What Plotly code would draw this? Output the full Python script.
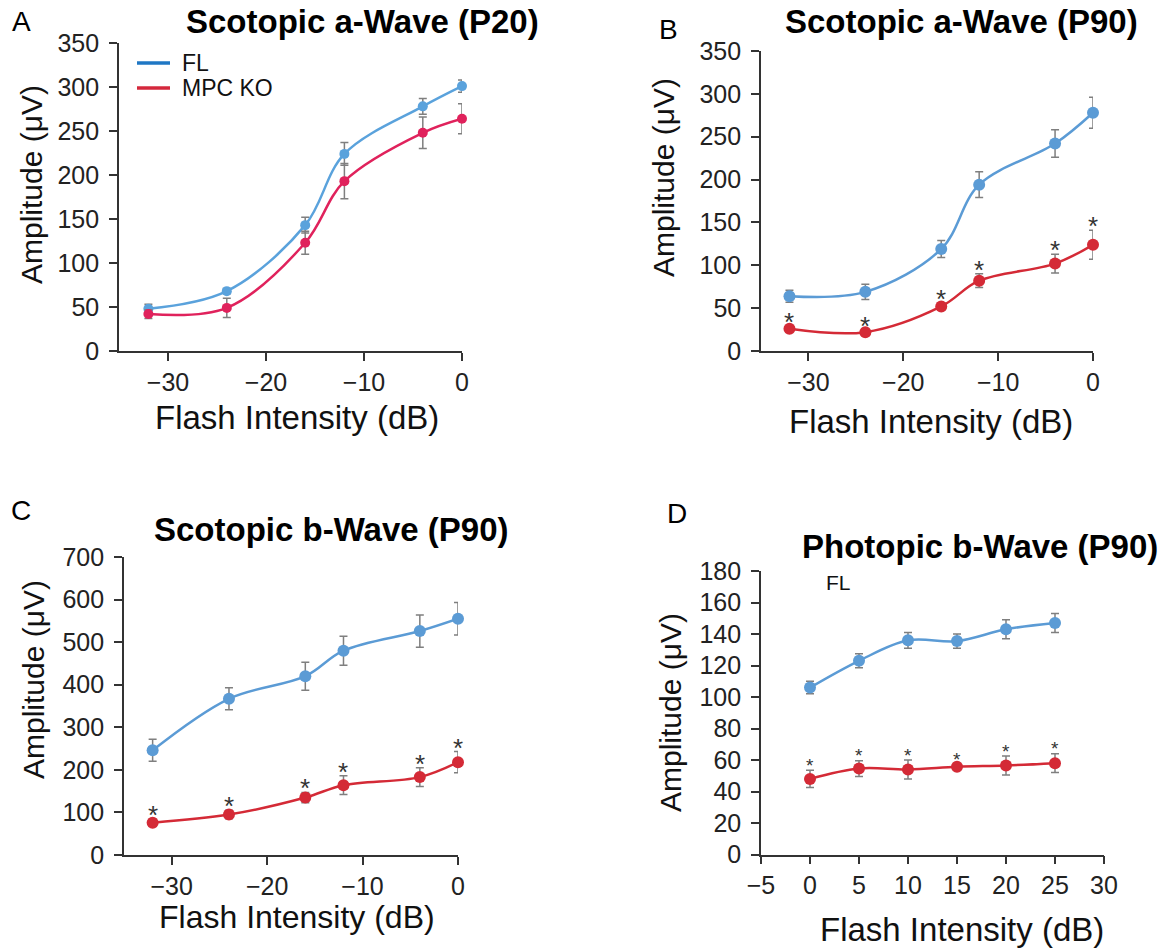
import plotly.graph_objects as go

# ---------------- data ----------------
x_scot = [-32, -24, -16, -12, -4, 0]
x_phot = [0, 5, 10, 15, 20, 25]

a20_fl = [48, 68, 143, 224, 278, 301]
a20_fl_err = [5, 3, 9, 13, 9, 7]
a20_ko = [42, 49, 123, 193, 248, 264]
a20_ko_err = [5, 11, 13, 20, 18, 17]

a90_fl = [64, 69, 119, 194, 242, 278]
a90_fl_err = [7, 9, 10, 15, 16, 18]
a90_ko = [26, 22, 52, 82, 102, 124]
a90_ko_err = [3, 2, 4, 8, 11, 17]

b90_fl = [246, 367, 420, 480, 526, 555]
b90_fl_err = [26, 26, 33, 34, 38, 38]
b90_ko = [76, 95, 135, 164, 183, 218]
b90_ko_err = [8, 10, 12, 22, 22, 25]

ph_fl = [106, 123, 136, 135.5, 143, 147]
ph_fl_err = [4, 4.5, 5, 4.5, 6, 6]
ph_ko = [48, 54.6, 54, 55.7, 56.5, 58]
ph_ko_err = [5.5, 5, 6, 1.5, 6, 6]

titles = ["Scotopic a-Wave (P20)", "Scotopic a-Wave (P90)",
          "Scotopic b-Wave (P90)", "Photopic b-Wave (P90)"]
letters = ["A", "B", "C", "D"]
series_names = ["FL", "MPC KO"]
x_title = "Flash Intensity (dB)"
y_title = "Amplitude (\u03bcV)"

# ---------------- style / geometry ----------------
FONT = "Liberation Sans, Arial, Helvetica, sans-serif"
FW, FH = 1171, 951


def PX(px):
    return px / FW


def PY(py):
    return 1 - py / FH


BLUE_A, RED_A = "#5aa2dc", "#e0225c"
BLUE, RED = "#5b9bd5", "#d42a36"
LEG_BLUE, LEG_RED = "#1f77c4", "#d4283c"
ERR = "#7f7f7f"
AX = "#333333"

fig = go.Figure()


def add_series(x, y, err, color, ax, name, msize=12):
    fig.add_trace(go.Scatter(
        x=x, y=y, mode="lines+markers", name=name,
        line=dict(color=color, width=2.5, shape="spline", smoothing=1.0),
        marker=dict(color=color, size=msize),
        error_y=dict(type="data", array=err, visible=True, color=ERR,
                     thickness=1.5, width=4),
        xaxis="x" + ax, yaxis="y" + ax, showlegend=False, cliponaxis=False))


def add_stars(x, y, err, ax, size=26, shift=4):
    for xi, yi, ei in zip(x, y, err):
        fig.add_annotation(text="*", x=xi, y=yi + ei, xref="x" + ax, yref="y" + ax,
                           showarrow=False, xanchor="center", yanchor="middle",
                           yshift=shift,
                           font=dict(family=FONT, size=size, color="#333333"))


# panel A
add_series(x_scot, a20_fl, a20_fl_err, BLUE_A, "", series_names[0], 10)
add_series(x_scot, a20_ko, a20_ko_err, RED_A, "", series_names[1], 10)
# panel B
add_series(x_scot, a90_fl, a90_fl_err, BLUE, "2", series_names[0])
add_series(x_scot, a90_ko, a90_ko_err, RED, "2", series_names[1])
add_stars(x_scot, a90_ko, a90_ko_err, "2")
# panel C
add_series(x_scot, b90_fl, b90_fl_err, BLUE, "3", series_names[0])
add_series(x_scot, b90_ko, b90_ko_err, RED, "3", series_names[1])
add_stars(x_scot, b90_ko, b90_ko_err, "3")
# panel D
add_series(x_phot, ph_fl, ph_fl_err, BLUE, "4", series_names[0])
add_series(x_phot, ph_ko, ph_ko_err, RED, "4", series_names[1])
add_stars(x_phot, ph_ko, ph_ko_err, "4", 19, 5)

common_axis = dict(showline=True, linecolor=AX, linewidth=1.6, ticks="outside",
                   ticklen=8, tickwidth=1.5, tickcolor=AX, showgrid=False,
                   zeroline=False, tickfont=dict(family=FONT, size=25, color="#222"))

# plot areas in page pixels: (left, right, top, bottom)
boxes = {
    "": (119, 462, 43, 351),
    "2": (761, 1093, 51, 351),
    "3": (124, 458, 557, 855),
    "4": (761, 1104, 571, 854.5),
}
xranges = {"": [-35, 0], "2": [-35, 0], "3": [-35, 0], "4": [-5, 30]}
xdt = {"": 10, "2": 10, "3": 10, "4": 5}
yranges = {"": [0, 350], "2": [0, 350], "3": [0, 700], "4": [0, 180]}
ydt = {"": 50, "2": 50, "3": 100, "4": 20}

layout = dict(
    width=FW, height=FH, margin=dict(l=0, r=0, t=0, b=0, autoexpand=False),
    paper_bgcolor="white", plot_bgcolor="white",
    font=dict(family=FONT),
    showlegend=False,
)
for k, (l, r, t, b) in boxes.items():
    layout["xaxis" + k] = dict(domain=[PX(l), PX(r)], range=xranges[k], tick0=0,
                               dtick=xdt[k], anchor="y" + k, **common_axis)
    layout["yaxis" + k] = dict(domain=[PY(b), PY(t)], range=yranges[k], tick0=0,
                               dtick=ydt[k], anchor="x" + k, ticklabelstandoff=5,
                               **common_axis)
fig.update_layout(**layout)

# legend of panel A (line swatches + labels)
for name, col, ly in zip(series_names, [LEG_BLUE, LEG_RED], [63, 88]):
    fig.add_shape(type="line", xref="paper", yref="paper",
                  x0=PX(137), x1=PX(170), y0=PY(ly), y1=PY(ly),
                  line=dict(color=col, width=3.5))
    fig.add_annotation(text=name, x=PX(180), y=PY(ly), xref="paper", yref="paper",
                       showarrow=False, xanchor="left", yanchor="middle",
                       font=dict(family=FONT, size=23, color="#111"))

# panel titles and letters
title_pos = [(362, 22), (961, 22), (331, 529), (980, 546)]
letter_pos = [(21, 22), (668, 29), (21, 510), (677, 513)]
for t, (tx, ty) in zip(titles, title_pos):
    fig.add_annotation(text="<b>" + t + "</b>", x=PX(tx), y=PY(ty),
                       xref="paper", yref="paper", showarrow=False,
                       xanchor="center", yanchor="middle",
                       font=dict(family=FONT, size=33, color="black"))
for l, (lx, ly) in zip(letters, letter_pos):
    fig.add_annotation(text=l, x=PX(lx), y=PY(ly), xref="paper", yref="paper",
                       showarrow=False, xanchor="center", yanchor="middle",
                       font=dict(family=FONT, size=28, color="black"))

# axis titles
xt_pos = [(297, 418), (931, 421), (297, 917), (962, 929)]
xt_size = [33, 33, 32, 33]
yt_pos = [(31, 185), (664, 178), (33, 680), (670, 713)]
for (x0, y0), fs in zip(xt_pos, xt_size):
    fig.add_annotation(text=x_title, x=PX(x0), y=PY(y0), xref="paper", yref="paper",
                       showarrow=False, xanchor="center", yanchor="middle",
                       font=dict(family=FONT, size=fs, color="#111"))
for (x0, y0) in yt_pos:
    fig.add_annotation(text=y_title, x=PX(x0), y=PY(y0), xref="paper", yref="paper",
                       showarrow=False, xanchor="center", yanchor="middle",
                       textangle=-90, font=dict(family=FONT, size=30, color="#111"))

# "FL" label inside panel D
fig.add_annotation(text="FL", x=2.9, y=173, xref="x4", yref="y4", showarrow=False,
                   xanchor="center", yanchor="middle",
                   font=dict(family=FONT, size=21, color="#111"))

# remove the default 8px page margin so the figure fills the window exactly
fig.write_html("out.html",
               config={"displayModeBar": False},
               post_script="document.body.style.margin='0';"
                           "document.body.style.overflow='hidden';")
